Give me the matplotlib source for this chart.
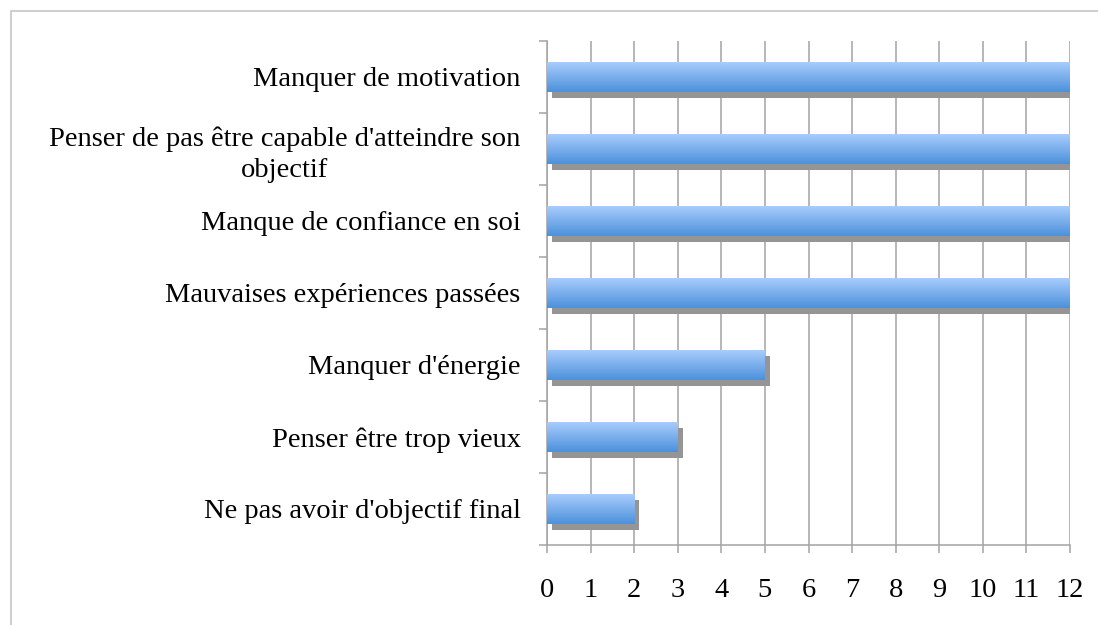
""" Horizontal bar chart: obstacles to reaching one's goal. """

import numpy as np
import matplotlib.pyplot as plt
from matplotlib.patches import Rectangle
from matplotlib.transforms import ScaledTranslation

categories = [
    "Manquer de motivation",
    "Penser de pas être capable d'atteindre son\nobjectif",
    "Manque de confiance en soi",
    "Mauvaises expériences passées",
    "Manquer d'énergie",
    "Penser être trop vieux",
    "Ne pas avoir d'objectif final",
]
values = [12, 12, 12, 12, 5, 3, 2]
x_ticks = list(range(0, 13))


def main():
    plt.rcParams["font.family"] = ["Liberation Serif", "DejaVu Serif"]

    fig = plt.figure(figsize=(10.98, 6.25), dpi=100)
    ax = fig.add_axes([547 / 1098, 1 - 545 / 625, 523 / 1098, 504 / 625])

    # outer chart frame (cut off at right and bottom)
    fig.patches.append(Rectangle((11 / 1098, -0.2), 2, 1.2 - 11 / 625,
                                 transform=fig.transFigure, fill=False,
                                 edgecolor="#c6c6c6", lw=1.2))

    n = len(categories)
    pos = np.arange(n)[::-1]
    h = 0.41

    grad = np.linspace(0, 1, 64)[:, None]
    top = np.array([0.66, 0.80, 0.99])
    bot = np.array([0.30, 0.57, 0.86])
    img = (top * (1 - grad[..., None]) + bot * grad[..., None])

    shadow_tr = ax.transData + ScaledTranslation(5 / 100, -6 / 100,
                                                 fig.dpi_scale_trans)
    ax.barh(pos, values, height=h, color="#959595", transform=shadow_tr,
            zorder=2)
    bars = ax.barh(pos, values, height=h, color="none", zorder=3)
    for b, y, v in zip(bars, pos, values):
        im = ax.imshow(img, extent=(0, v, y - h / 2, y + h / 2),
                       origin="upper", aspect="auto", zorder=3,
                       interpolation="bilinear")
        im.set_clip_path(b)
    ax.set_aspect("auto")
    ax.set_xlim(0, 12)
    ax.set_ylim(-0.5, n - 0.5)

    ax.set_xticks(x_ticks)
    ax.set_yticks(pos)
    ax.set_yticklabels(categories, multialignment="center", linespacing=1.3)
    ax.set_yticks(np.arange(-0.5, n, 1), minor=True)

    ax.grid(axis="x", color="#a3a3a3", lw=1.1, zorder=1)
    ax.set_axisbelow(True)
    for side in ("top", "right"):
        ax.spines[side].set_visible(False)
    for side in ("left", "bottom"):
        ax.spines[side].set_color("#a3a3a3")
        ax.spines[side].set_linewidth(1.1)

    ax.tick_params(axis="y", which="major", length=0, pad=19, labelsize=20.5)
    ax.tick_params(axis="y", which="minor", length=5.5, color="#a3a3a3",
                   width=1.1)
    ax.tick_params(axis="x", length=6, color="#a3a3a3", width=1.1, pad=18,
                   labelsize=20.5)

    plt.savefig("out.png")


if __name__ == "__main__":
    main()
